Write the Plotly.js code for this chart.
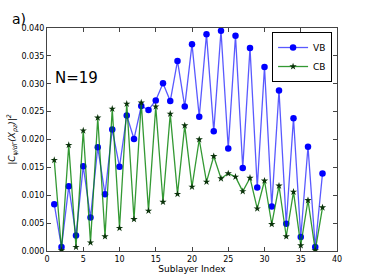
<!DOCTYPE html>
<html>
<head>
<meta charset="utf-8">
<script src="https://cdn.plot.ly/plotly-3.0.1.min.js"></script>
<style>html,body{margin:0;padding:0;background:#fff;}#chart{width:374px;height:280px;}</style>
</head>
<body>
<div id="chart"></div>
<script>
const sublayer = [1,2,3,4,5,6,7,8,9,10,11,12,13,14,15,16,17,18,19,20,21,22,23,24,25,26,27,28,29,30,31,32,33,34,35,36,37,38];
const vbValues = [0.0084,0.0007,0.0116,0.0028,0.0152,0.0060,0.0186,0.0102,0.0218,0.0151,
  0.0243,0.0201,0.0260,0.0253,0.0270,0.0301,0.0269,0.0341,0.0259,0.0371,
  0.0241,0.0389,0.0215,0.0395,0.0184,0.0386,0.0149,0.0364,0.0114,0.0330,
  0.0080,0.0288,0.0049,0.0238,0.0025,0.0187,0.0007,0.0139];
const cbValues = [0.0163,0.0001,0.0190,0.0007,0.0216,0.0015,0.0239,0.0026,0.0255,0.0041,
  0.0264,0.0057,0.0266,0.0072,0.0259,0.0088,0.0246,0.0102,0.0225,0.0115,
  0.0200,0.0124,0.0170,0.0130,0.0139,0.0133,0.0107,0.0131,0.0076,0.0126,
  0.0048,0.0117,0.0026,0.0106,0.0010,0.0091,0.0001,0.0078];
const xTicks = [0,5,10,15,20,25,30,35,40];
const yTicks = [0,0.005,0.010,0.015,0.020,0.025,0.030,0.035,0.040];
const yTickLabels = ['0.000','0.005','0.010','0.015','0.020','0.025','0.030','0.035','0.040'];

const font = 'DejaVu Sans, sans-serif';
const traces = [
  {x: sublayer, y: vbValues, name: 'VB', type: 'scatter', mode: 'lines+markers',
   line: {color: 'rgba(0,0,255,0.65)', width: 1.3},
   marker: {symbol: 'circle', size: 6.5, color: '#0000ff'}},
  {x: sublayer, y: cbValues, name: 'CB', type: 'scatter', mode: 'lines+markers',
   line: {color: 'rgba(0,128,0,0.8)', width: 1.3},
   marker: {symbol: 'star', size: 5.5, color: '#0a330a'}}
];
const axisCommon = {showgrid: false, zeroline: false, mirror: 'ticks', showline: true,
  linecolor: '#444', linewidth: 1, ticks: 'inside', ticklen: 4, tickcolor: '#444',
  tickfont: {family: font, size: 8, color: '#000'}};
const layout = {
  width: 374, height: 280,
  margin: {l: 47, r: 37, t: 28, b: 29},
  paper_bgcolor: '#fff', plot_bgcolor: '#fff',
  showlegend: true,
  legend: {x: 0.983, y: 0.982, xanchor: 'right', yanchor: 'top',
    bordercolor: '#000', borderwidth: 1, bgcolor: '#fff',
    font: {family: font, size: 9, color: '#000'}, itemwidth: 30, tracegroupgap: 0},
  xaxis: Object.assign({}, axisCommon, {range: [0, 40], tickvals: xTicks,
    title: {text: 'Sublayer Index', font: {family: font, size: 9, color: '#000'}, standoff: 2}}),
  yaxis: Object.assign({}, axisCommon, {range: [0, 0.040], tickvals: yTicks, ticktext: yTickLabels,
    title: {text: '<i>|C<sub>ψ/dΓ</sub>(X<sub>pz</sub>)|<sup>2</sup></i>', font: {family: font, size: 9, color: '#000'}, standoff: 4}}),
  annotations: [
    {text: 'a)', xref: 'paper', yref: 'paper', x: -0.127, y: 1.085, xanchor: 'left', yanchor: 'top',
     showarrow: false, font: {family: font, size: 14, color: '#000'}},
    {text: 'N=19', xref: 'paper', yref: 'paper', x: 0.022, y: 0.776, xanchor: 'left', yanchor: 'middle',
     showarrow: false, font: {family: font, size: 15, color: '#000'}}
  ]
};
Plotly.newPlot('chart', traces, layout, {displayModeBar: false, staticPlot: true});
</script>
</body>
</html>
